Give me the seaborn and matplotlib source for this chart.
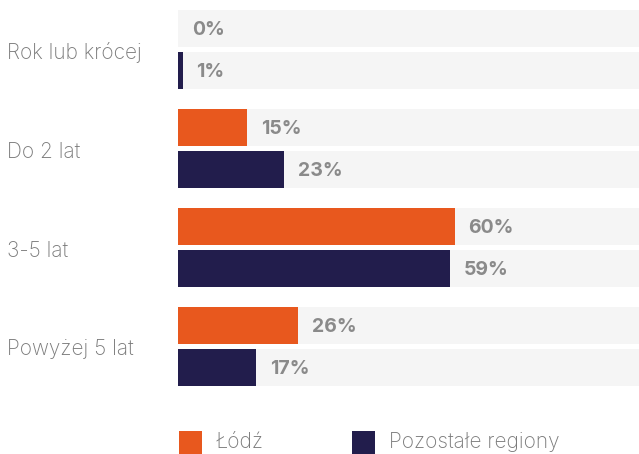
import matplotlib
matplotlib.use("Agg")
import matplotlib.pyplot as plt
import matplotlib.transforms as mtransforms
from matplotlib.patches import Rectangle
import seaborn as sns
import pandas as pd

categories = ["Rok lub krócej", "Do 2 lat", "3-5 lat", "Powyżej 5 lat"]
series_names = ["Łódź", "Pozostałe regiony"]
lodz = [0, 15, 60, 26]
pozostale = [1, 23, 59, 17]
value_labels_lodz = ["0%", "15%", "60%", "26%"]
value_labels_poz = ["1%", "23%", "59%", "17%"]

ORANGE = "#E8581E"
NAVY = "#221D4C"
BG = "#F5F5F5"
TXT = "#8A8A8A"
CAT = "#7A7A7A"

df = pd.DataFrame({
    "cat": categories * 2,
    "series": [series_names[0]] * 4 + [series_names[1]] * 4,
    "value": lodz + pozostale,
})
df_bg = df.copy()
df_bg["value"] = 100

sns.set_theme(style="white")
plt.rcParams["font.family"] = ["Inter", "DejaVu Sans"]

W, H = 639, 454
fig = plt.figure(figsize=(W / 100, H / 100), dpi=100)
ax = fig.add_axes([178 / W, (H - 386) / H, 461 / W, 376 / H])

common = dict(y="cat", hue="series", orient="h", width=0.85, gap=0.12,
              order=categories, hue_order=series_names, legend=False, ax=ax,
              saturation=1, linewidth=0, errorbar=None)
sns.barplot(data=df_bg, x="value", palette=[BG, BG], **common)
sns.barplot(data=df, x="value", palette=[ORANGE, NAVY], **common)

ax.set_xlim(0, 100)
ax.set_ylim(3.399, -0.399)
ax.set_xlabel("")
ax.set_ylabel("")
ax.set_xticks([])
ax.set_yticks([])
for s in ax.spines.values():
    s.set_visible(False)

off = 0.2125
for i in range(len(categories)):
    ax.annotate(value_labels_lodz[i], (lodz[i], i - off), xytext=(10, -1),
                textcoords="offset points", va="center", ha="left",
                fontsize=14, fontweight="bold", color=TXT)
    ax.annotate(value_labels_poz[i], (pozostale[i], i + off), xytext=(10, -1),
                textcoords="offset points", va="center", ha="left",
                fontsize=14, fontweight="bold", color=TXT)

trans = mtransforms.blended_transform_factory(fig.transFigure, ax.transData)
for i, c in enumerate(categories):
    ax.text(7 / W, i + 0.03, c, transform=trans, ha="left", va="center",
            fontsize=15, color=CAT, fontweight="light", clip_on=False)

# legend
leg_items = [(179, ORANGE, series_names[0], 215), (352, NAVY, series_names[1], 389)]
for x0, col, name, tx in leg_items:
    fig.patches.append(Rectangle((x0 / W, 0), 23 / W, 23 / H, transform=fig.transFigure,
                                 facecolor=col, edgecolor="none"))
    fig.text(tx / W, 11.5 / H, name, ha="left", va="center", fontsize=15,
             color=CAT, fontweight="light")

fig.savefig("out.png", dpi=100)
